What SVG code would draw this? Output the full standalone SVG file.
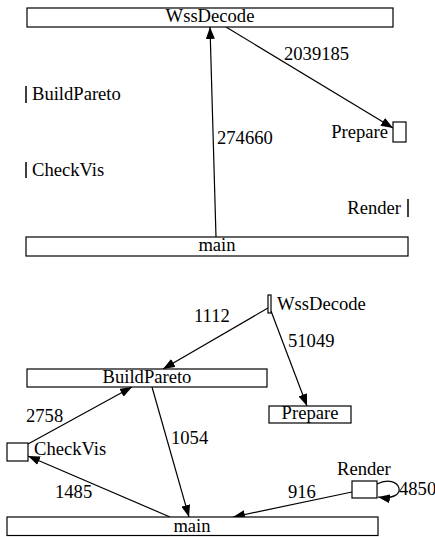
<svg xmlns="http://www.w3.org/2000/svg" width="435" height="537" viewBox="0 0 435 537" font-family="'Liberation Serif', 'Times New Roman', 'DejaVu Serif', serif">
<style>
text{font-family:'Liberation Serif','Times New Roman','DejaVu Serif',serif;font-size:18.6px;fill:#000}
.n{fill:#fff;stroke:#000;stroke-width:1.2}
.e{fill:none;stroke:#000;stroke-width:1.2;marker-end:url(#ah)}
.t{stroke:#000;stroke-width:1.5}
.m{text-anchor:middle}
.r{text-anchor:end}
</style>
<defs>
<marker id="ah" markerUnits="userSpaceOnUse" markerWidth="13" markerHeight="9" refX="12" refY="4.5" orient="auto">
<path d="M0,0 L12,4.5 L0,9 z" fill="#000"/>
</marker>
</defs>
<rect width="435" height="537" fill="#fff"/>
<g id="edges">
<path class="e" d="M216,237 L210,27"/>
<path class="e" d="M226,27 L393,128"/>
<path class="e" d="M268,308 L163,369"/>
<path class="e" d="M271,311 L307,406"/>
<path class="e" d="M28,444 L132,387"/>
<path class="e" d="M152,387 L189,517"/>
<path class="e" d="M170,517 L28,456"/>
<path class="e" d="M352,492 L233,517"/>
<path class="e" d="M377,484 C400,472 412,502 378,497"/>
</g>
<g id="edge-labels">
<text x="284" y="60">2039185</text>
<text x="217" y="144">274660</text>
<text x="194" y="322">1112</text>
<text x="288" y="347">51049</text>
<text x="26" y="422">2758</text>
<text x="171" y="444">1054</text>
<text x="55" y="498">1485</text>
<text x="288" y="498">916</text>
<text x="399" y="495">4850</text>
</g>
<g id="top-WssDecode"><rect class="n" x="27" y="8" width="366" height="19"/><text class="m" x="210" y="22">WssDecode</text></g>
<g id="top-BuildPareto"><line class="t" x1="26" y1="86" x2="26" y2="103"/><text x="32" y="100">BuildPareto</text></g>
<g id="top-Prepare"><rect class="n" x="393" y="122" width="13" height="20"/><text class="r" x="388" y="138">Prepare</text></g>
<g id="top-CheckVis"><line class="t" x1="26" y1="162" x2="26" y2="178"/><text x="32" y="176">CheckVis</text></g>
<g id="top-Render"><line class="t" x1="408" y1="199" x2="408" y2="217"/><text class="r" x="401" y="214">Render</text></g>
<g id="top-main"><rect class="n" x="26" y="237" width="382" height="19"/><text class="m" x="217" y="251">main</text></g>
<g id="bot-WssDecode"><rect class="n" x="268" y="295" width="3" height="18"/><text x="277" y="310">WssDecode</text></g>
<g id="bot-BuildPareto"><rect class="n" x="27" y="369" width="240" height="18"/><text class="m" x="147" y="383">BuildPareto</text></g>
<g id="bot-Prepare"><rect class="n" x="269" y="406" width="82" height="17"/><text class="m" x="310" y="419">Prepare</text></g>
<g id="bot-CheckVis"><rect class="n" x="7" y="443" width="21" height="18"/><text x="34" y="455">CheckVis</text></g>
<g id="bot-Render"><rect class="n" x="352" y="481" width="25" height="17"/><text x="337" y="475">Render</text></g>
<g id="bot-main"><rect class="n" x="7" y="517" width="371" height="18.5"/><text class="m" x="192" y="532">main</text></g>
</svg>
